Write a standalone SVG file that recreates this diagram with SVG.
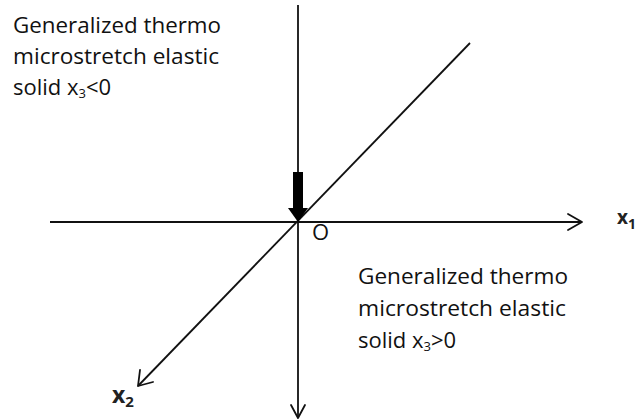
<svg xmlns="http://www.w3.org/2000/svg" width="637" height="420" viewBox="0 0 637 420">
<style>
.ax{stroke:#111;stroke-width:1.8;fill:none}
.hd{stroke:#111;stroke-width:1.8;fill:none;stroke-linecap:round;stroke-linejoin:round}
.t{font-family:"Open Sans","Liberation Sans",sans-serif;font-size:22px;fill:#111}
.s{font-size:13px}
.lb{font-family:"Open Sans","Liberation Sans",sans-serif;fill:#222;font-weight:bold}
</style>
<rect width="637" height="420" fill="#fff"/>
<g id="connectors">
<line class="ax" x1="298" y1="5" x2="298" y2="418"/>
<polyline class="hd" points="291,405 298,418 305,405"/>
<line class="ax" x1="50" y1="222" x2="582" y2="222"/>
<polyline class="hd" points="568,214 582,222 568,230"/>
<line class="ax" x1="470" y1="43" x2="138" y2="386"/>
<polyline class="hd" points="140,370 138,386 153,382"/>
<g id="force">
<rect x="293" y="172" width="10" height="40" fill="#000"/>
<polygon points="288,208 308,208 298,222" fill="#000"/>
</g>
</g>
<g id="label-upper">
<text class="t" x="13" y="33" textLength="208" lengthAdjust="spacingAndGlyphs">Generalized thermo</text>
<text class="t" x="13" y="64" textLength="206" lengthAdjust="spacingAndGlyphs">microstretch elastic</text>
<text class="t" x="13" y="95">solid x<tspan class="s" dy="3">3</tspan><tspan dy="-3">&lt;0</tspan></text>
</g>
<g id="label-lower">
<text class="t" x="358" y="284" textLength="210" lengthAdjust="spacingAndGlyphs">Generalized thermo</text>
<text class="t" x="358" y="316" textLength="208" lengthAdjust="spacingAndGlyphs">microstretch elastic</text>
<text class="t" x="358" y="348">solid x<tspan class="s" dy="3">3</tspan><tspan dy="-3">&gt;0</tspan></text>
</g>
<g id="origin"><text class="t" x="312" y="240" font-size="18">O</text></g>
<g id="x1"><text class="lb" x="617" y="224" font-size="19">x<tspan font-size="14" dy="5">1</tspan></text></g>
<g id="x2"><text class="lb" x="112" y="403" font-size="23">x<tspan font-size="15" dy="4">2</tspan></text></g>
</svg>
